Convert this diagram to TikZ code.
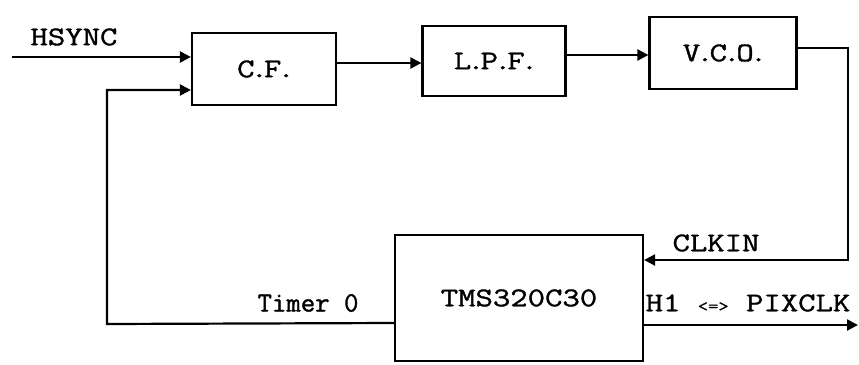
\documentclass[tikz,border=0pt]{standalone}
\usepackage{fontspec}
\newfontfamily\ttf[FakeStretch=1.25,FakeBold=1.3]{Latin Modern Mono}
\newfontfamily\ttfn[FakeBold=1.3]{Latin Modern Mono}
\newcommand\dotk{\kern-4pt.\kern-4pt}
\usetikzlibrary{arrows.meta}
\begin{document}
\begin{tikzpicture}[x=1pt,y=-1pt,
  line width=2.2pt,
  arr/.style={-{Triangle[length=11pt,width=11pt]}},
  blk/.style={draw,line width=2.2pt,inner sep=0pt,font=\ttf\fontsize{27}{30}\selectfont},
  lbl/.style={inner sep=0pt,font=\ttf\fontsize{27}{30}\selectfont}]
\useasboundingbox (0,0) rectangle (859,364);
\node[blk,minimum width=144pt,minimum height=72pt] (cf) at (264,69) {C\dotk F\dotk};
\node[blk,minimum width=143pt,minimum height=70pt] (lpf) at (494,61) {L\dotk P\dotk F\dotk};
\node[blk,minimum width=147pt,minimum height=72pt] (vco) at (723,53) {V\dotk C\dotk O\dotk};
\node[blk,minimum width=248pt,minimum height=126pt] (tms) at (519,298) {TMS320C30};
\coordinate (hs) at (12,57);
\coordinate (fb) at (107,324);
\coordinate (cr) at (848,260);
\coordinate (out) at (858,325);
\node[lbl] (lhs) at (74,37) {HSYNC};
\node[lbl] (lclk) at (716,243) {CLKIN};
\node[lbl,font=\ttfn\fontsize{28}{30}\selectfont] (ltim) at (308,303) {Timer 0};
\node[lbl] (lh1) at (748,303) {H1 {\fontsize{16}{20}\selectfont<=>} PIXCLK};
\draw[arr] (hs) -- (hs -| cf.west);
\draw[arr] ([yshift=-25pt]tms.west) -- (fb) |- ([yshift=-21pt]cf.west);
\draw[arr] ([yshift=6pt]cf.east) -- ([yshift=6pt]cf.east -| lpf.west);
\draw[arr] ([yshift=6pt]lpf.east) -- ([yshift=6pt]lpf.east -| vco.west);
\draw[arr] ([yshift=5pt]vco.east) -| (cr) -- (cr -| tms.east);
\draw[arr] ([yshift=-27pt]tms.east) -- (out);
\end{tikzpicture}
\end{document}
